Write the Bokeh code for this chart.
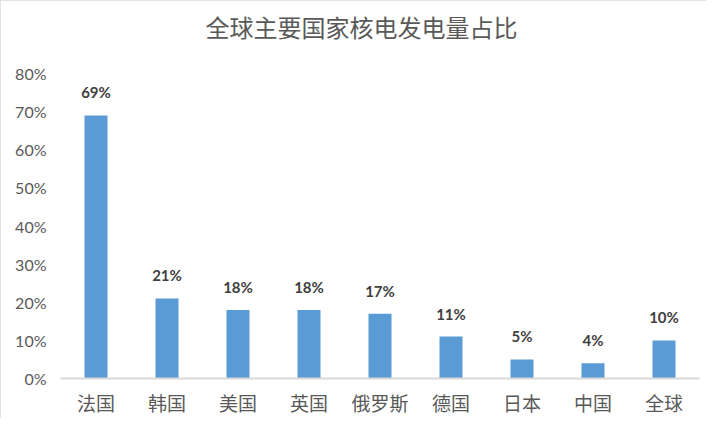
from bokeh.plotting import figure
from bokeh.models import ColumnDataSource, LabelSet, FixedTicker, PrintfTickFormatter, Title
from bokeh.core.properties import value
from bokeh.embed import file_html
from bokeh.resources import INLINE

categories = ["法国", "韩国", "美国", "英国", "俄罗斯", "德国", "日本", "中国", "全球"]
values = [69, 21, 18, 18, 17, 11, 5, 4, 10]
value_labels = ["69%", "21%", "18%", "18%", "17%", "11%", "5%", "4%", "10%"]
y_ticks = [0, 10, 20, 30, 40, 50, 60, 70, 80]

src = ColumnDataSource(dict(cat=categories, val=values, lab=value_labels))

p = figure(x_range=categories, y_range=(0, 80), width=706, height=418,
           output_backend="svg", toolbar_location=None,
           min_border_left=60, min_border_right=7, min_border_top=73, min_border_bottom=38,
           styles={"outline": "3px solid #d9d9d9", "outline-offset": "-3px"})

p.vbar(x="cat", top="val", width=0.324, source=src, color="#5B9BD5", line_color=None)

labels = LabelSet(x="cat", y="val", text="lab", source=src, text_align="center",
                  text_baseline="bottom", y_offset=14, text_font=value("Lato"),
                  text_font_style="bold", text_font_size="15px", text_color="#404040")
p.add_layout(labels)

p.title = Title(text="全球主要国家核电发电量占比", align="left", offset=145,
                text_font="Noto Sans CJK SC", text_font_size="24px",
                text_font_style="normal", text_color="#595959", standoff=10)
p.add_layout(Title(text=" ", text_font_size="10px", standoff=12), "above")

p.xgrid.grid_line_color = None
p.ygrid.grid_line_color = None
p.outline_line_color = None

p.yaxis.ticker = FixedTicker(ticks=y_ticks)
p.yaxis.formatter = PrintfTickFormatter(format="%d%%")
p.yaxis.axis_line_color = None
p.yaxis.major_tick_line_color = None
p.yaxis.minor_tick_line_color = None
p.yaxis.major_tick_out = 0
p.yaxis.major_label_text_font = "Lato"
p.yaxis.major_label_text_font_size = "16px"
p.yaxis.major_label_text_color = "#595959"
p.yaxis.major_label_standoff = 14

p.xaxis.axis_line_color = "#d9d9d9"
p.xaxis.axis_line_width = 2
p.xaxis.major_tick_line_color = None
p.xaxis.minor_tick_line_color = None
p.xaxis.major_tick_out = 0
p.xaxis.major_label_text_font = "Noto Sans CJK SC"
p.xaxis.major_label_text_font_size = "19px"
p.xaxis.major_label_text_color = "#595959"
p.xaxis.major_label_standoff = 10

open("out.html", "w").write(file_html(p, INLINE))
